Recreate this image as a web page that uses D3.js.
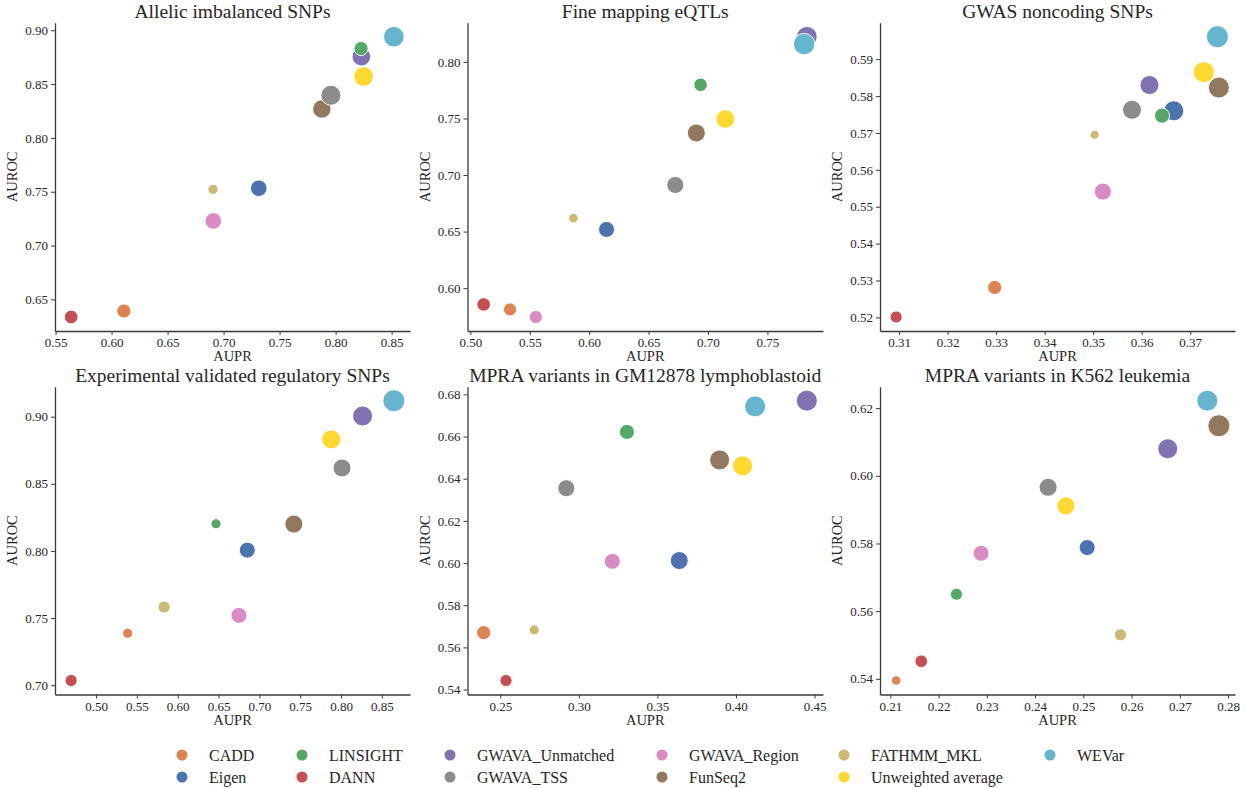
<!DOCTYPE html>
<html>
<head>
<meta charset="utf-8">
<script src="https://cdn.jsdelivr.net/npm/d3@7"></script>
<style>
  html, body { margin: 0; padding: 0; background: #ffffff; }
  svg { display: block; }
  svg text { font-family: "Liberation Serif", "Times New Roman", serif; fill: #262626; }
</style>
</head>
<body>
<svg id="chart" width="1247" height="788"></svg>
<script>
// Methods, in the order their points are drawn
const methods = ["CADD", "Eigen", "DANN", "FATHMM_MKL", "FunSeq2", "GWAVA_Region",
                 "GWAVA_TSS", "GWAVA_Unmatched", "LINSIGHT", "Unweighted average", "WEVar"];

// Legend order (column-major, two rows)
const legendOrder = ["CADD", "Eigen", "LINSIGHT", "DANN", "GWAVA_Unmatched", "GWAVA_TSS",
                     "GWAVA_Region", "FunSeq2", "FATHMM_MKL", "Unweighted average", "WEVar"];

const methodColors = {
  "CADD": "#DD8452", "Eigen": "#4C72B0", "LINSIGHT": "#55A868", "DANN": "#C44E52",
  "GWAVA_Unmatched": "#8172B3", "GWAVA_TSS": "#8C8C8C", "GWAVA_Region": "#DA8BC3",
  "FunSeq2": "#937860", "FATHMM_MKL": "#CCB974", "Unweighted average": "#FFD92F",
  "WEVar": "#64B5CD"
};

const titles = ["Allelic imbalanced SNPs", "Fine mapping eQTLs", "GWAS noncoding SNPs",
                "Experimental validated regulatory SNPs", "MPRA variants in GM12878 lymphoblastoid",
                "MPRA variants in K562 leukemia"];

// AUPR per panel (same order as `methods`)
const aupr = [
  [0.611, 0.7314, 0.5639, 0.6905, 0.7877, 0.6908, 0.7958, 0.823, 0.8227, 0.825, 0.852],
  [0.5334, 0.6146, 0.5112, 0.5868, 0.6902, 0.5551, 0.6725, 0.7832, 0.6938, 0.7146, 0.7809],
  [0.3297, 0.3666, 0.3094, 0.3503, 0.3759, 0.352, 0.358, 0.3616, 0.3642, 0.3728, 0.3756],
  [0.5387, 0.6852, 0.4695, 0.5834, 0.7422, 0.675, 0.8012, 0.8264, 0.6469, 0.7881, 0.8647],
  [0.2394, 0.3639, 0.2536, 0.2716, 0.3896, 0.3213, 0.292, 0.4451, 0.3306, 0.4042, 0.4122],
  [0.2112, 0.2508, 0.2164, 0.2577, 0.2781, 0.2288, 0.2427, 0.2675, 0.2237, 0.2464, 0.2757]
];

// AUROC per panel
const auroc = [
  [0.6392, 0.7532, 0.6336, 0.7522, 0.8269, 0.7228, 0.8396, 0.8755, 0.883, 0.857, 0.894],
  [0.5812, 0.6519, 0.5856, 0.6619, 0.7372, 0.5745, 0.6912, 0.8223, 0.7798, 0.7496, 0.8158],
  [0.5281, 0.576, 0.5201, 0.5695, 0.5823, 0.5541, 0.5763, 0.583, 0.5747, 0.5865, 0.5961],
  [0.7387, 0.8006, 0.7035, 0.7582, 0.820, 0.752, 0.8618, 0.9005, 0.8202, 0.8831, 0.9119],
  [0.567, 0.6012, 0.5443, 0.5683, 0.6489, 0.6008, 0.6355, 0.677, 0.6622, 0.6461, 0.6743],
  [0.5395, 0.5788, 0.5452, 0.553, 0.6148, 0.5771, 0.5966, 0.608, 0.565, 0.5911, 0.6222]
];

// Relative weight behind each marker's size (0 = smallest, 1 = largest)
const weight = [
  [0.29, 0.48, 0.26, 0.05, 0.64, 0.48, 0.79, 0.66, 0.29, 0.75, 0.85],
  [0.22, 0.43, 0.25, 0.02, 0.60, 0.22, 0.52, 0.85, 0.25, 0.66, 0.93],
  [0.29, 0.79, 0.16, 0.00, 0.89, 0.52, 0.69, 0.69, 0.36, 0.89, 1.00],
  [0.05, 0.43, 0.16, 0.16, 0.60, 0.43, 0.60, 0.79, 0.05, 0.69, 1.00],
  [0.29, 0.60, 0.16, 0.05, 0.79, 0.43, 0.52, 0.89, 0.36, 0.79, 0.89],
  [0.02, 0.43, 0.19, 0.16, 1.00, 0.43, 0.60, 0.79, 0.16, 0.60, 0.89]
];

// Tick values per panel
const xTicks = [
  [0.55, 0.60, 0.65, 0.70, 0.75, 0.80, 0.85],
  [0.50, 0.55, 0.60, 0.65, 0.70, 0.75],
  [0.31, 0.32, 0.33, 0.34, 0.35, 0.36, 0.37],
  [0.50, 0.55, 0.60, 0.65, 0.70, 0.75, 0.80, 0.85],
  [0.25, 0.30, 0.35, 0.40, 0.45],
  [0.21, 0.22, 0.23, 0.24, 0.25, 0.26, 0.27, 0.28]
];
const yTicks = [
  [0.65, 0.70, 0.75, 0.80, 0.85, 0.90],
  [0.60, 0.65, 0.70, 0.75, 0.80],
  [0.52, 0.53, 0.54, 0.55, 0.56, 0.57, 0.58, 0.59],
  [0.70, 0.75, 0.80, 0.85, 0.90],
  [0.54, 0.56, 0.58, 0.60, 0.62, 0.64, 0.66, 0.68],
  [0.54, 0.56, 0.58, 0.60, 0.62]
];

// ---- layout ----
const colLeft = [55, 467.5, 880];
const colRight = [410, 823, 1235];
const rowTop = [22.7, 386.7];
const rowBottom = [331, 694.5];
const axisColor = "#3a3a3a";
const serif = "'Liberation Serif', 'Times New Roman', serif";

const svg = d3.select("#chart");

// marker area grows linearly with weight
const areaScale = d3.scaleLinear().domain([0, 1]).range([4.5 * 4.5, 11 * 11]);
const radius = w => Math.sqrt(areaScale(w));

function padded(vals) {
  const [lo, hi] = d3.extent(vals);
  const m = (hi - lo) * 0.05;
  return [lo - m, hi + m];
}

titles.forEach((title, p) => {
  const col = p % 3, row = Math.floor(p / 3);
  const x0 = colLeft[col], x1 = colRight[col];
  const y0 = rowTop[row], y1 = rowBottom[row];

  const x = d3.scaleLinear().domain(padded(aupr[p])).range([x0, x1]);
  const y = d3.scaleLinear().domain(padded(auroc[p])).range([y1, y0]);

  const g = svg.append("g");

  // points
  const pts = methods.map((m, i) => ({ m, a: aupr[p][i], r: auroc[p][i], w: weight[p][i] }));
  g.selectAll("circle.pt").data(pts).join("circle")
    .attr("class", "pt")
    .attr("cx", d => x(d.a))
    .attr("cy", d => y(d.r))
    .attr("r", d => radius(d.w))
    .attr("fill", d => methodColors[d.m])
    .attr("stroke", "#ffffff")
    .attr("stroke-width", 0.9);

  // axes
  const xAxis = d3.axisBottom(x).tickValues(xTicks[p]).tickFormat(d3.format(".2f"))
    .tickSizeInner(4).tickSizeOuter(0).tickPadding(3);
  const yAxis = d3.axisLeft(y).tickValues(yTicks[p]).tickFormat(d3.format(".2f"))
    .tickSizeInner(4).tickSizeOuter(0).tickPadding(3);

  const gx = g.append("g").attr("transform", `translate(0,${y1})`).call(xAxis);
  const gy = g.append("g").attr("transform", `translate(${x0},0)`).call(yAxis);
  [gx, gy].forEach(a => {
    a.attr("font-family", null).attr("font-size", null);
    a.select(".domain").attr("stroke", axisColor).attr("stroke-width", 1.3);
    a.selectAll(".tick line").attr("stroke", axisColor).attr("stroke-width", 1);
    a.selectAll(".tick text")
      .style("font-family", serif)
      .style("font-size", "13px")
      .style("fill", "#262626");
  });

  // axis labels
  g.append("text")
    .attr("x", (x0 + x1) / 2).attr("y", y1 + 30)
    .attr("text-anchor", "middle").style("font-size", "14.5px")
    .text("AUPR");
  g.append("text")
    .attr("transform", `translate(${x0 - 38},${(y0 + y1) / 2}) rotate(-90)`)
    .attr("text-anchor", "middle").style("font-size", "14.5px")
    .text("AUROC");

  // title
  g.append("text")
    .attr("x", (x0 + x1) / 2).attr("y", y0 - 5)
    .attr("text-anchor", "middle").style("font-size", "19.5px")
    .text(title);
});

// ---- legend ----
const legendColX = [182, 302, 450, 662, 844, 1050];
const legendRowY = [755, 777];
const legend = svg.append("g");
legendOrder.forEach((m, i) => {
  const c = Math.floor(i / 2), r = i % 2;
  const lx = legendColX[c], ly = legendRowY[r];
  legend.append("circle")
    .attr("cx", lx).attr("cy", ly).attr("r", 5.5)
    .attr("fill", methodColors[m]);
  legend.append("text")
    .attr("x", lx + 27).attr("y", ly + 5.5)
    .style("font-size", "16px")
    .text(m);
});
</script>
</body>
</html>
